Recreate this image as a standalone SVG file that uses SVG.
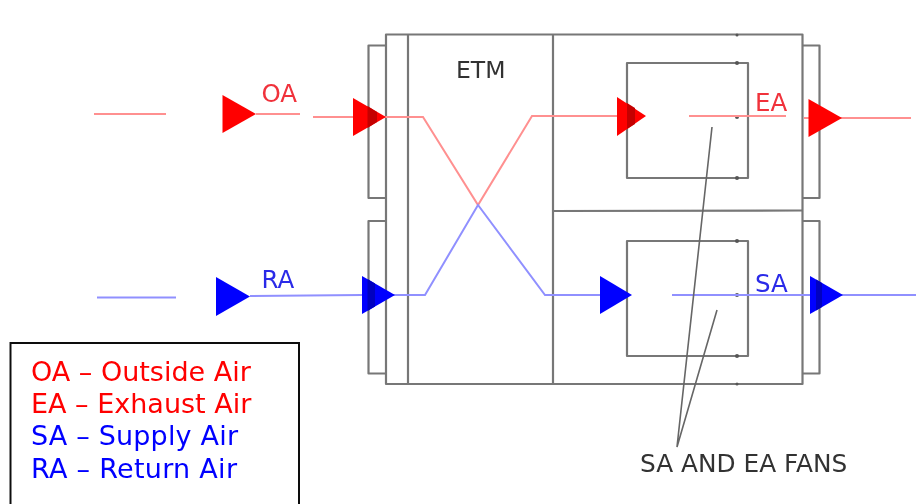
<svg xmlns="http://www.w3.org/2000/svg" width="924" height="504" viewBox="0 0 924 504">
<defs><filter id="soft" x="0" y="0" width="924" height="504" filterUnits="userSpaceOnUse"><feGaussianBlur stdDeviation="0.45"/></filter></defs>
<style>
.box{fill:none;stroke:#777;stroke-width:2.2;stroke-linejoin:round}
.lead{fill:none;stroke:#666;stroke-width:1.6}
.r{fill:none;stroke:#ff9090;stroke-width:2}
.b{fill:none;stroke:#9090ff;stroke-width:2}
.rh{fill:#ff0000}
.bh{fill:#0000ff}
.rd{fill:#c40000}
.bd{fill:#0000c0}
.dot{fill:#555}
text{font-family:"DejaVu Sans",Verdana,sans-serif}
.lbl{font-size:24.500px}
.leg{font-size:27px}
.red{fill:#ff0000}
.blue{fill:#0000ff}
.rl{fill:#f0303a}
.bl{fill:#2a2ae8}
</style>
<rect width="924" height="504" fill="#fff"/>
<g filter="url(#soft)">
<g id="unit">
<rect class="box" x="386" y="34.500" width="416.500" height="349.500"/>
<path class="box" d="M408 34.500V384M553 34.500V384M553 211L802.500 210.500"/>
<text x="456" y="78" font-size="23.500" fill="#333">ETM</text>
</g>
<g id="flanges">
<path class="box" d="M386 45.500H368.500V198H386M386 221H368.500V373.500H386M802.500 45.500H819.500V198H802.500M802.500 221H819.500V373.500H802.500"/>
</g>
<g id="fan-ea">
<rect class="box" x="627" y="63" width="121" height="115"/>
<circle class="dot" cx="737" cy="35" r="1.500"/><circle class="dot" cx="737" cy="63" r="2"/><circle class="dot" cx="737" cy="117" r="2"/><circle class="dot" cx="737" cy="178" r="2"/>
</g>
<g id="fan-sa">
<rect class="box" x="627" y="241" width="121" height="115"/>
<circle class="dot" cx="737" cy="241" r="2"/><circle class="dot" cx="737" cy="295" r="2"/><circle class="dot" cx="737" cy="356" r="2"/><circle class="dot" cx="737" cy="384" r="1.500"/>
</g>
<g id="connectors">
<path class="r" d="M94 114H166M256 114H300M313 117H423L478 205L532 116H617M689 116H786M804 118H911"/>
<path class="b" d="M97 297.500H176M250 296L362 295H425L478 205L545 295H600M672 295H916"/>
<path class="lead" d="M712 127L677 447L717 310"/>
</g>
<g id="arrows">
<polygon class="rh" points="222.500,95 256,114 222.500,133"/>
<polygon class="rh" points="353,98 386,117 353,136"/>
<polygon class="rd" points="367.500,106 377,112 377,122 367.500,128"/>
<polygon class="rh" points="617,97 646,116 617,136"/>
<polygon class="rd" points="627,103 635,108 635,124 627,129"/>
<polygon class="rh" points="808.500,99 842,118 808.500,137"/>
<polygon class="bh" points="216,277 250,296.500 216,316"/>
<polygon class="bh" points="362,276 395,295 362,314"/>
<polygon class="bd" points="367.500,279 375,283.500 375,306.500 367.500,311"/>
<polygon class="bh" points="600,276 632,295 600,314"/>
<polygon class="bh" points="810,276 843,295 810,314"/>
<polygon class="bd" points="816,279.500 822,283 822,307 816,310.500"/>
</g>
<g id="labels">
<text class="lbl rl" x="261.500" y="102">OA</text>
<text class="lbl rl" x="755" y="110.500">EA</text>
<text class="lbl bl" x="261.500" y="288">RA</text>
<text class="lbl bl" x="755" y="291.500">SA</text>
<text x="640" y="472" font-size="24.800" fill="#333">SA AND EA FANS</text>
</g>
<g id="legend">
<rect x="10.500" y="343" width="288.500" height="170" fill="#fff" stroke="#111" stroke-width="2"/>
<text class="leg red" x="31" y="381">OA – Outside Air</text>
<text class="leg red" x="31" y="413">EA – Exhaust Air</text>
<text class="leg blue" x="31" y="445" textLength="207">SA – Supply Air</text>
<text class="leg blue" x="31" y="477.500" textLength="206">RA – Return Air</text>
</g>
</g>
</svg>
